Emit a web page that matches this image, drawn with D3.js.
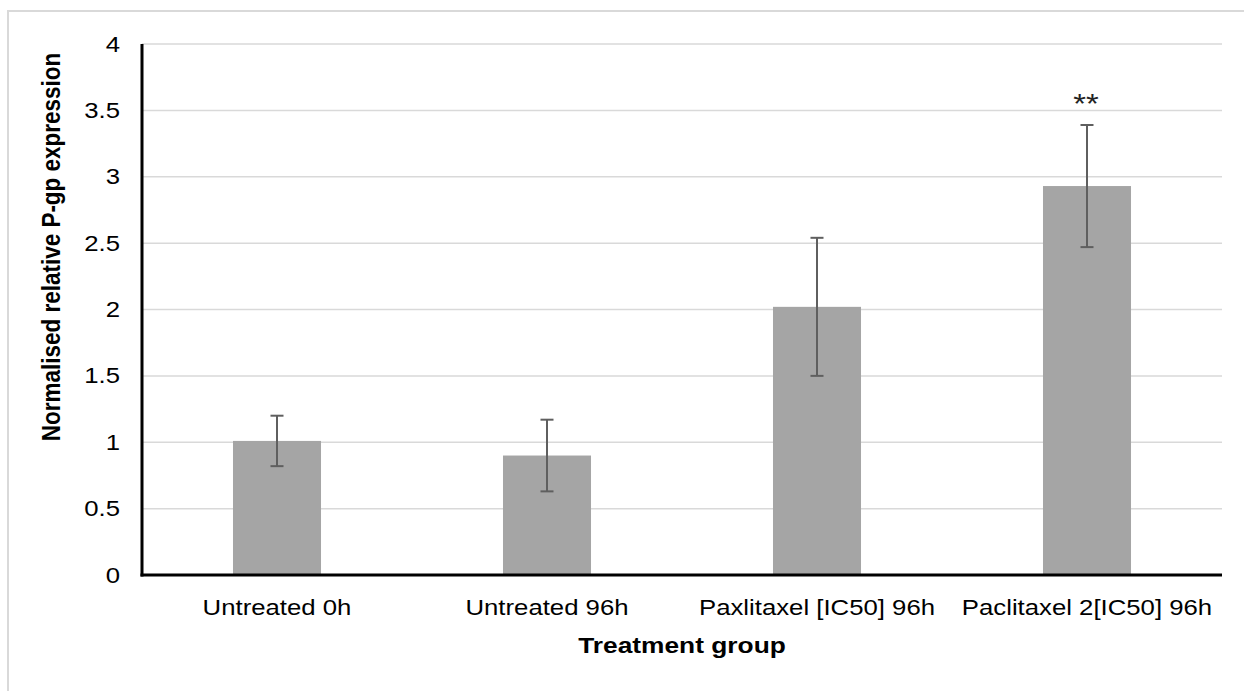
<!DOCTYPE html>
<html>
<head>
<meta charset="utf-8">
<script src="https://cdn.jsdelivr.net/npm/d3@7"></script>
<style>
  body { margin: 0; background: #fff; }
  text { font-family: "Liberation Sans", Arial, sans-serif; fill: #000; }
</style>
</head>
<body>
<div class="chart"></div>
<script>
// data
const groups = ["Untreated 0h", "Untreated 96h", "Paxlitaxel [IC50] 96h", "Paclitaxel 2[IC50] 96h"];
const means  = [1.01, 0.90, 2.02, 2.93];
const errors = [0.19, 0.27, 0.52, 0.46];
const marks  = ["", "", "", "**"];
const yTicks = [0, 0.5, 1, 1.5, 2, 2.5, 3, 3.5, 4];

const W = 1244, H = 691;
const margin = {top: 44, right: 22, bottom: 116, left: 142};
const width = W - margin.left - margin.right,
      height = H - margin.top - margin.bottom;
const stretch = 1.17;   // the picture's text is a bit wider than tall
const fs = 22;

const svgRoot = d3.select(".chart").append("svg")
    .attr("width", W)
    .attr("height", H);

// light frame round the chart area (runs off the right/bottom)
svgRoot.append("rect")
    .attr("x", 8).attr("y", 11)
    .attr("width", W).attr("height", H)
    .attr("fill", "none")
    .attr("stroke", "#d9d9d9")
    .attr("stroke-width", 2);

const svg = svgRoot.append("g")
    .attr("transform", "translate(" + margin.left + "," + margin.top + ")");

const x = d3.scaleBand().domain(groups).range([0, width]).paddingInner(0.674).paddingOuter(0.337);
const y = d3.scaleLinear().domain([0, 4]).range([height, 0]);

// gridlines
svg.append("g")
    .selectAll("line")
    .data(yTicks.filter(d => d > 0))
    .enter().append("line")
    .attr("x1", 0).attr("x2", width)
    .attr("y1", d => y(d)).attr("y2", d => y(d))
    .attr("stroke", "#d9d9d9")
    .attr("stroke-width", 1.5);

// bars
svg.selectAll(".bar")
    .data(means)
    .enter().append("rect")
    .attr("class", "bar")
    .attr("x", (d, i) => x(groups[i]))
    .attr("y", d => y(d))
    .attr("width", x.bandwidth())
    .attr("height", d => height - y(d))
    .attr("fill", "#a5a5a5");

// error bars
const eb = svg.selectAll(".err")
    .data(means)
    .enter().append("g")
    .attr("class", "err")
    .attr("stroke", "#5f5f5f")
    .attr("stroke-width", 2);

const cx = i => x(groups[i]) + x.bandwidth() / 2;
eb.append("line")
    .attr("x1", (d, i) => cx(i)).attr("x2", (d, i) => cx(i))
    .attr("y1", (d, i) => y(d + errors[i])).attr("y2", (d, i) => y(d - errors[i]));
eb.append("line")
    .attr("x1", (d, i) => cx(i) - 6.5).attr("x2", (d, i) => cx(i) + 6.5)
    .attr("y1", (d, i) => y(d + errors[i])).attr("y2", (d, i) => y(d + errors[i]));
eb.append("line")
    .attr("x1", (d, i) => cx(i) - 6.5).attr("x2", (d, i) => cx(i) + 6.5)
    .attr("y1", (d, i) => y(d - errors[i])).attr("y2", (d, i) => y(d - errors[i]));

// significance stars
svg.selectAll(".sig")
    .data(marks)
    .enter().append("text")
    .attr("class", "sig")
    .attr("transform", (d, i) => "translate(" + (cx(i) - 1) + "," + (y(means[i] + errors[i]) - 12) + ") scale(" + stretch + ",1)")
    .attr("text-anchor", "middle")
    .style("font-size", "28px")
    .style("fill", "#222")
    .text(d => d);

// axe X
const xAxis = svg.append("g")
    .attr("transform", "translate(0," + height + ")")
    .call(d3.axisBottom(x).tickSize(0).tickPadding(24));
xAxis.select(".domain").attr("stroke", "#000").attr("stroke-width", 3)
    .attr("d", "M-1.5,0H" + width);
xAxis.selectAll("text")
    .style("font-size", fs + "px")
    .attr("fill", "#000")
    .attr("transform", "scale(" + stretch + ",1)");

// axe Y
const yAxis = svg.append("g")
    .call(d3.axisLeft(y).tickValues(yTicks).tickSize(0).tickFormat(d3.format("")));
yAxis.select(".domain").attr("stroke", "#000").attr("stroke-width", 3)
    .attr("d", "M0,0V" + (height + 1.5));
yAxis.selectAll("text")
    .style("font-size", fs + "px")
    .attr("fill", "#000")
    .attr("x", -22 / stretch)
    .attr("transform", "scale(" + stretch + ",1)");

// axis titles
svg.append("text")
    .attr("transform", "translate(" + (width / 2) + "," + (height + 78) + ") scale(" + stretch + ",1)")
    .attr("text-anchor", "middle")
    .style("font-size", "22.5px")
    .style("font-weight", "bold")
    .text("Treatment group");

svg.append("text")
    .attr("transform", "translate(" + (60 - margin.left) + "," + (247 - margin.top) + ") rotate(-90) scale(1," + stretch + ")")
    .attr("text-anchor", "middle")
    .style("font-size", "22.5px")
    .style("font-weight", "bold")
    .text("Normalised relative P-gp expression");
</script>
</body>
</html>
